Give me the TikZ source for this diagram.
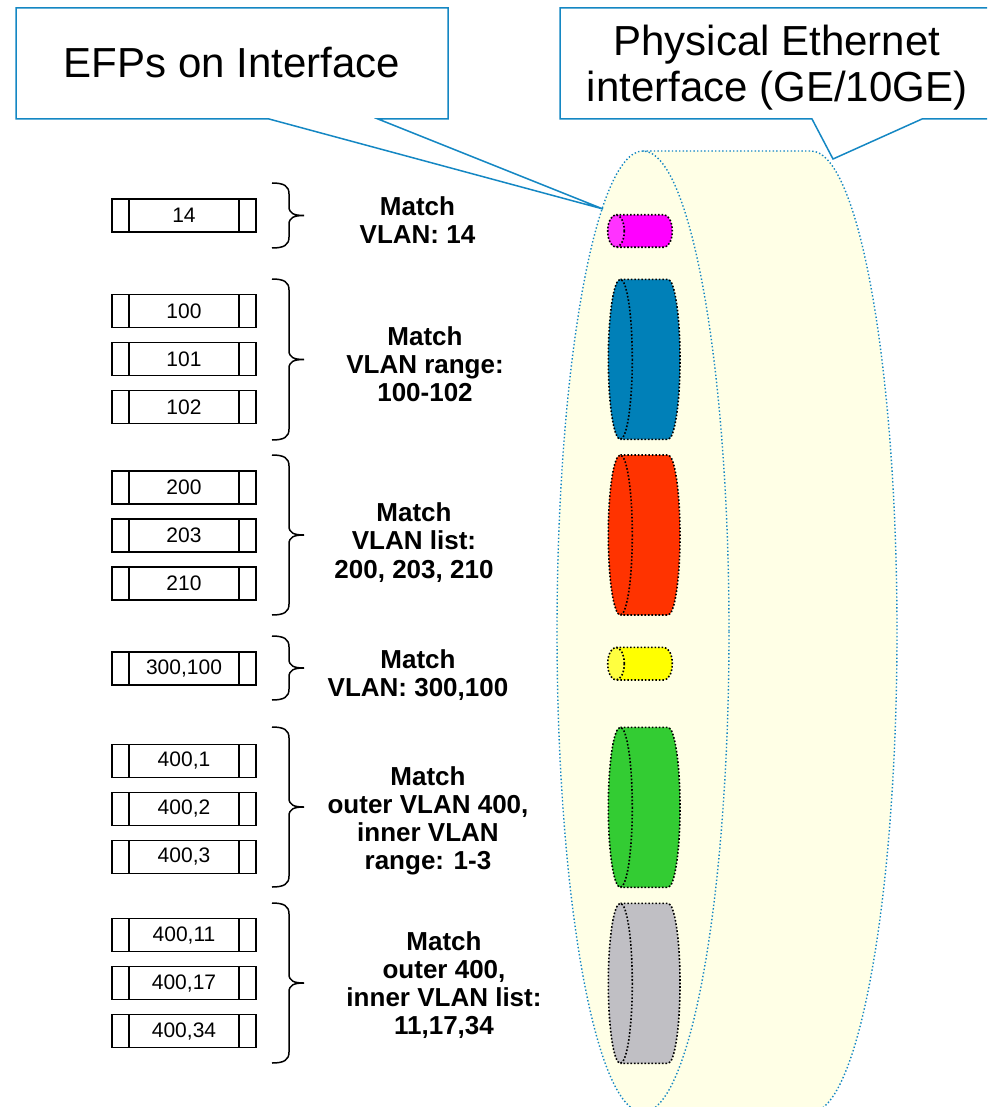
\documentclass[tikz,border=0pt]{standalone}
\usepackage{fontspec}
\setmainfont{Liberation Sans}
\usetikzlibrary{positioning}

\definecolor{ifblue}{RGB}{20,135,195}
\definecolor{ifyellow}{RGB}{255,255,230}
\definecolor{efpmagenta}{RGB}{255,0,255}
\definecolor{efpblue}{RGB}{0,128,184}
\definecolor{efpred}{RGB}{255,51,0}
\definecolor{efpyellow}{RGB}{255,255,0}
\definecolor{efpgreen}{RGB}{51,204,51}
\definecolor{efpgray}{RGB}{192,191,196}

% front x, y, x radius, y radius, back x, colour, front colour
\newcommand{\efpcyl}[7]{%
  \fill[#6] (#1,#2-#4) -- (#5,#2-#4)
    arc[start angle=-90, end angle=90, x radius=#3, y radius=#4] -- (#1,#2+#4)
    arc[start angle=90, end angle=270, x radius=#3, y radius=#4] -- cycle;
  \draw[cylline] (#1,#2-#4) -- (#5,#2-#4)
    arc[start angle=-90, end angle=90, x radius=#3, y radius=#4] -- (#1,#2+#4);
  \draw[cylline, fill=#7] (#1,#2) ellipse[x radius=#3, y radius=#4];
}
% x, top, bottom
\newcommand{\efpbrace}[3]{%
  \draw[bracket] (#1,#2) .. controls (#1+12,#2) and (#1+17,#2+3) .. (#1+17,#2+11)
    -- (#1+17,{(#2+#3)/2-9}) .. controls (#1+17,{(#2+#3)/2-2}) and (#1+22,{(#2+#3)/2}) .. (#1+32,{(#2+#3)/2})
    .. controls (#1+22,{(#2+#3)/2}) and (#1+17,{(#2+#3)/2+2}) .. (#1+17,{(#2+#3)/2+9})
    -- (#1+17,#3-11) .. controls (#1+17,#3-3) and (#1+12,#3) .. (#1,#3);
}

\begin{document}
\begin{tikzpicture}[x=1pt, y=-1pt,
  efpbox/.style={draw, line width=1.3pt, outer sep=0pt, inner sep=0pt,
    minimum width=144pt, minimum height=33pt, font=\fontsize{21}{24}\selectfont,
    path picture={\draw[line width=1.3pt]
      ([xshift=17pt]path picture bounding box.north west) -- ([xshift=17pt]path picture bounding box.south west)
      ([xshift=-17pt]path picture bounding box.north east) -- ([xshift=-17pt]path picture bounding box.south east);}},
  match/.style={anchor=base, align=center, inner sep=0pt, font=\fontsize{26}{28.3}\selectfont\bfseries},
  callout/.style={draw=ifblue, fill=white, line width=1.5pt, line join=miter},
  calltext/.style={anchor=base, align=center, inner sep=0pt, font=\fontsize{42}{46}\selectfont},
  cylline/.style={line width=1.6pt, dash pattern=on 1.6pt off 1.9pt},
  ifline/.style={draw=ifblue, line width=1.4pt, dash pattern=on 1.4pt off 2.2pt},
  bracket/.style={line width=1.5pt}
]
\useasboundingbox (0,0) rectangle (987,1107);
\clip (0,0) rectangle (987,1107);

% physical interface
\fill[ifyellow] (643,151) -- (811,151)
  arc[start angle=-90, end angle=90, x radius=86, y radius=480.6] -- (643,1112.2)
  arc[start angle=90, end angle=270, x radius=86, y radius=480.6] -- cycle;
\draw[ifline] (643,151) -- (811,151)
  arc[start angle=-90, end angle=90, x radius=86, y radius=480.6] -- (643,1112.2);
\draw[ifline] (643,631.6) ellipse[x radius=86, y radius=480.6];

% EFPs
\efpcyl{616}{231}{8.3}{16.2}{664}{efpmagenta}{efpmagenta!80!white}
\efpcyl{620.3}{359.3}{12}{80}{668}{efpblue}{efpblue}
\efpcyl{620.3}{535}{12}{80}{668}{efpred}{efpred}
\efpcyl{616}{663.7}{8.3}{16.3}{664}{efpyellow}{efpyellow!75!white}
\efpcyl{620.3}{807.3}{12}{80}{668}{efpgreen}{efpgreen}
\efpcyl{620.3}{983.3}{12}{80}{668}{efpgray}{efpgray}

% callouts
\draw[callout] (16,8) -- (448,8) -- (448,119) -- (378,119) -- (603,209) -- (269,119) -- (16,119) -- cycle;
\node[calltext] (efps) at (232,78) {EFPs on Interface};
\draw[callout] (560,8) -- (995,8) -- (995,119) -- (922,119) -- (833,159) -- (812,119) -- (560,119) -- cycle;
\node[calltext] (phys) at (777,102) {Physical Ethernet\\interface (GE/10GE)};

% VLAN tags
\node[efpbox] (v14) at (184,215.5) {14};

\node[efpbox] (v100) at (184,311) {100};
\node[efpbox, below=15pt of v100] (v101) {101};
\node[efpbox, below=15pt of v101] (v102) {102};

\node[efpbox] (v200) at (184,487.5) {200};
\node[efpbox, below=15pt of v200] (v203) {203};
\node[efpbox, below=15pt of v203] (v210) {210};

\node[efpbox] (v300) at (184,668.5) {300,100};

\node[efpbox] (v401) at (184,761) {400,1};
\node[efpbox, below=15pt of v401] (v402) {400,2};
\node[efpbox, below=15pt of v402] (v403) {400,3};

\node[efpbox] (v411) at (184,935) {400,11};
\node[efpbox, below=15pt of v411] (v417) {400,17};
\node[efpbox, below=15pt of v417] (v434) {400,34};

% braces
\efpbrace{272}{183}{248}
\efpbrace{272}{279}{440}
\efpbrace{272}{455}{615}
\efpbrace{272}{636}{700}
\efpbrace{272}{727}{887}
\efpbrace{272}{903}{1063}

% match rules
\node[match] (m14)  at (417.5,243.3) {Match\\VLAN: 14};
\node[match] (m100) at (425,401.6)   {Match\\VLAN range:\\100-102};
\node[match] (m200) at (414,578.1)   {Match\\VLAN list:\\200, 203, 210};
\node[match] (m300) at (418,696.3)   {Match\\VLAN: 300,100};
\node[match] (m401) at (428,869.9)   {Match\\outer VLAN 400,\\inner VLAN\\range: 1-3};
\node[match] (m411) at (444,1034.9)  {Match\\outer 400,\\inner VLAN list:\\11,17,34};

\end{tikzpicture}
\end{document}
